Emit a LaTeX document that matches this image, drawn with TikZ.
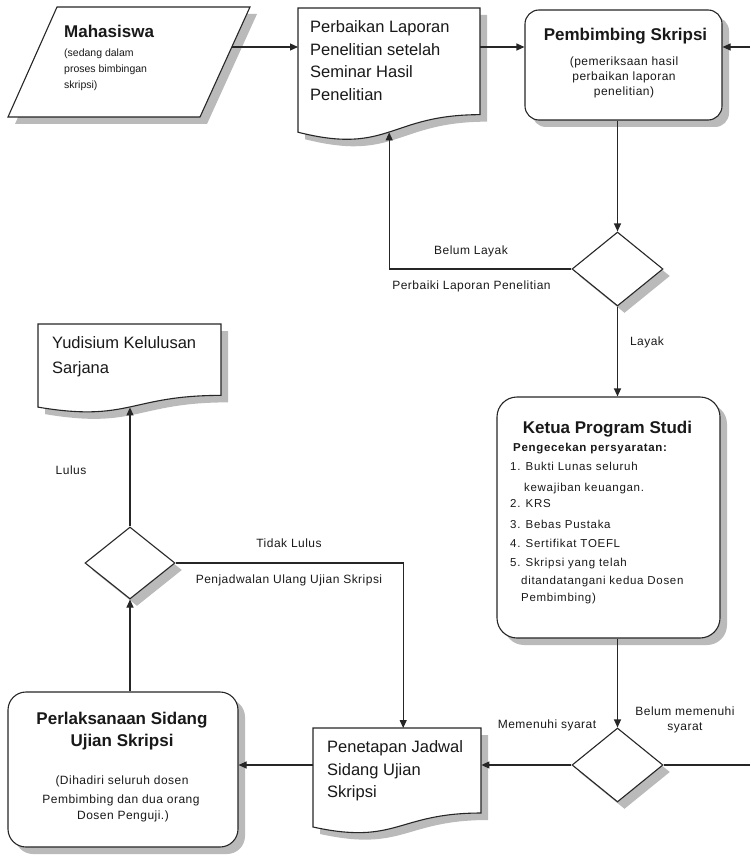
\documentclass[tikz,border=0pt]{standalone}
\usepackage{fontspec}
\setmainfont{Liberation Sans}
\newfontfamily\lblfont[LetterSpace=4]{Liberation Sans}
\newfontfamily\subfont[LetterSpace=4]{Liberation Sans}
\newfontfamily\lstfont[LetterSpace=6]{Liberation Sans}
\usetikzlibrary{shapes.geometric,arrows.meta,shadows}

% document symbol: left, top, right, height (wavy bottom edge)
\newcommand\docshape[5]{%
  \path[#1] (#2,#3) -- (#4,#3) -- (#4,#3+0.802*#5)
    .. controls ({(#2+#4)/2},#3+0.802*#5) and ({(#2+#4)/2},#3+1.107*#5)
    .. (#2,#3+0.934*#5) -- cycle;}

\begin{document}
\begin{tikzpicture}[x=1pt,y=-1pt,
  conn/.style={draw=black!85, line width=1.1pt},
  arr/.style={conn, -{Triangle[length=8pt,width=7pt]}},
  shadowed/.style={drop shadow={shadow xshift=7pt,shadow yshift=-7pt,fill=black!27,opacity=1}},
  procbox/.style={conn, fill=white, shadowed, inner sep=0pt, rounded corners=#1},
  procbox/.default=14pt,
  decision/.style={diamond, conn, fill=white, shadowed, inner sep=0pt,
    minimum width=91pt, minimum height=74pt},
  area/.style={inner sep=0pt, anchor=north west},
  ttl/.style={font=\fontsize{17}{20}\selectfont\bfseries, inner sep=0pt, text=black!90},
  doctext/.style={font=\fontsize{16.5}{20}\selectfont, inner sep=0pt, anchor=base west, text=black!90},
  subm/.style={font=\fontsize{10.5}{12}\selectfont, inner sep=0pt, anchor=base west, text=black!90},
  subc/.style={font=\subfont\fontsize{12}{14}\selectfont, inner sep=0pt, anchor=base, text=black!90},
  lbl/.style={font=\lblfont\fontsize{12}{14}\selectfont, inner sep=0pt, text=black!90},
  lst/.style={font=\lstfont\fontsize{11.5}{13}\selectfont, inner sep=0pt, anchor=base west, text=black!90},
  lstb/.style={font=\lstfont\fontsize{11.5}{13}\selectfont\bfseries, inner sep=0pt, anchor=base west, text=black!90}
]
\useasboundingbox (0,0) rectangle (750,856);

% ---------- shapes ----------
% input: Mahasiswa
\path[conn, fill=white, shadowed] (57,7) -- (250,7) -- (200,117) -- (8,117) -- cycle;
\coordinate (mhsout) at (232,47);

% documents
\docshape{conn, fill=white, shadowed}{298}{8}{480}{133}
\node[area, minimum width=182pt, minimum height=124pt] (perb) at (298,8) {};
\docshape{conn, fill=white, shadowed}{313}{728}{481}{106}
\node[area, minimum width=168pt, minimum height=99pt] (pen) at (313,728) {};
\docshape{conn, fill=white, shadowed}{38}{324}{221}{89}
\node[area, minimum width=183pt, minimum height=83pt] (yud) at (38,324) {};

% processes
\node[procbox=14pt, minimum width=197pt, minimum height=110pt] (pemb) at (623.5,65) {};
\node[procbox=20pt, minimum width=223pt, minimum height=241pt] (ketua) at (608.5,517.5) {};
\node[procbox=18pt, minimum width=230pt, minimum height=155pt] (perl) at (123,769.5) {};

% decisions
\node[decision] (d1) at (617.5,269) {};
\node[decision] (d2) at (617.5,765) {};
\node[decision, minimum width=90pt, minimum height=72pt] (d3) at (130,563) {};

% ---------- texts ----------
\node[ttl, anchor=base west] (mhs) at (64,38) {Mahasiswa};
\node[subm] (mhs1) at (64,57) {(sedang dalam};
\node[subm] (mhs2) at (64,73) {proses bimbingan};
\node[subm] (mhs3) at (64,89) {skripsi)};

\node[doctext] (perb1) at (310,33) {Perbaikan Laporan};
\node[doctext] (perb2) at (310,55.5) {Penelitian setelah};
\node[doctext] (perb3) at (310,78) {Seminar Hasil};
\node[doctext] (perb4) at (310,100.5) {Penelitian};

\node[ttl, anchor=base] (pembt) at (625.5,41) {Pembimbing Skripsi};
\node[subc] (pemb1) at (624,66) {(pemeriksaan hasil};
\node[subc] (pemb2) at (624,81) {perbaikan laporan};
\node[subc] (pemb3) at (624,96) {penelitian)};

\node[lbl] (blayak) at (471,251) {Belum Layak};
\node[lbl] (perbaiki) at (471.5,286) {Perbaiki Laporan Penelitian};
\node[lbl] (layak) at (647,342) {Layak};

\node[ttl, anchor=base] (ketuat) at (607.5,433) {Ketua Program Studi};
\node[lstb] (k0) at (513,451) {Pengecekan persyaratan:};
\node[lst] (k1) at (510,470) {1. Bukti Lunas seluruh};
\node[lst] (k1b) at (524,491) {kewajiban keuangan.};
\node[lst] (k2) at (510,507) {2. KRS};
\node[lst] (k3) at (510,528) {3. Bebas Pustaka};
\node[lst] (k4) at (510,547) {4. Sertifikat TOEFL};
\node[lst] (k5) at (510,566) {5. Skripsi yang telah};
\node[lst] (k5b) at (521,584) {ditandatangani kedua Dosen};
\node[lst] (k5c) at (521,601) {Pembimbing)};

\node[lbl] (memenuhi) at (547,725) {Memenuhi syarat};
\node[lbl, align=center, font=\lblfont\fontsize{12}{15}\selectfont] (belum) at (685,720) {Belum memenuhi\\syarat};

\node[doctext] (pen1) at (327,752.5) {Penetapan Jadwal};
\node[doctext] (pen2) at (327,775.5) {Sidang Ujian};
\node[doctext] (pen3) at (327,797.5) {Skripsi};

\node[ttl, anchor=base] (perlt1) at (122,724) {Perlaksanaan Sidang};
\node[ttl, anchor=base] (perlt2) at (122,746) {Ujian Skripsi};
\node[subc, font=\lblfont\fontsize{12}{14}\selectfont] (perl1) at (122,784) {(Dihadiri seluruh dosen};
\node[subc, font=\lblfont\fontsize{12}{14}\selectfont] (perl2) at (121,803) {Pembimbing dan dua orang};
\node[subc, font=\lblfont\fontsize{12}{14}\selectfont] (perl3) at (123,819) {Dosen Penguji.)};

\node[lbl] (tidak) at (289,543) {Tidak Lulus};
\node[lbl] (ulang) at (289,580) {Penjadwalan Ulang Ujian Skripsi};
\node[lbl] (lulus) at (71,470) {Lulus};

\node[doctext] (yud1) at (52,348.5) {Yudisium Kelulusan};
\node[doctext] (yud2) at (52,373.5) {Sarjana};

% ---------- connectors ----------
\coordinate (rin) at (750,47);
\coordinate (rout) at (750,765);
\draw[arr] (mhsout) -- (mhsout -| perb.west);
\draw[arr] (mhsout -| perb.east) -- (mhsout -| pemb.west);
\draw[arr] (rin) -- (rin -| pemb.east);
\draw[arr] (d1.north |- pemb.south) -- (d1.north);
\draw[arr] (d1.west) -| (perb.south);
\draw[arr] (d1.south) -- (d1.south |- ketua.north);
\draw[arr] (d2.north |- ketua.south) -- (d2.north);
\draw[conn] (d2.east) -- (rout);
\draw[arr] (d2.west) -- (d2.west -| pen.east);
\draw[arr] (d2.west -| pen.west) -- (d2.west -| perl.east);
\draw[arr] (d3.south |- perl.north) -- (d3.south);
\draw[arr] (d3.north) -- (d3.north |- yud.south);
\draw[arr] (d3.east) -| ([xshift=6pt]pen.north);
\end{tikzpicture}
\end{document}
